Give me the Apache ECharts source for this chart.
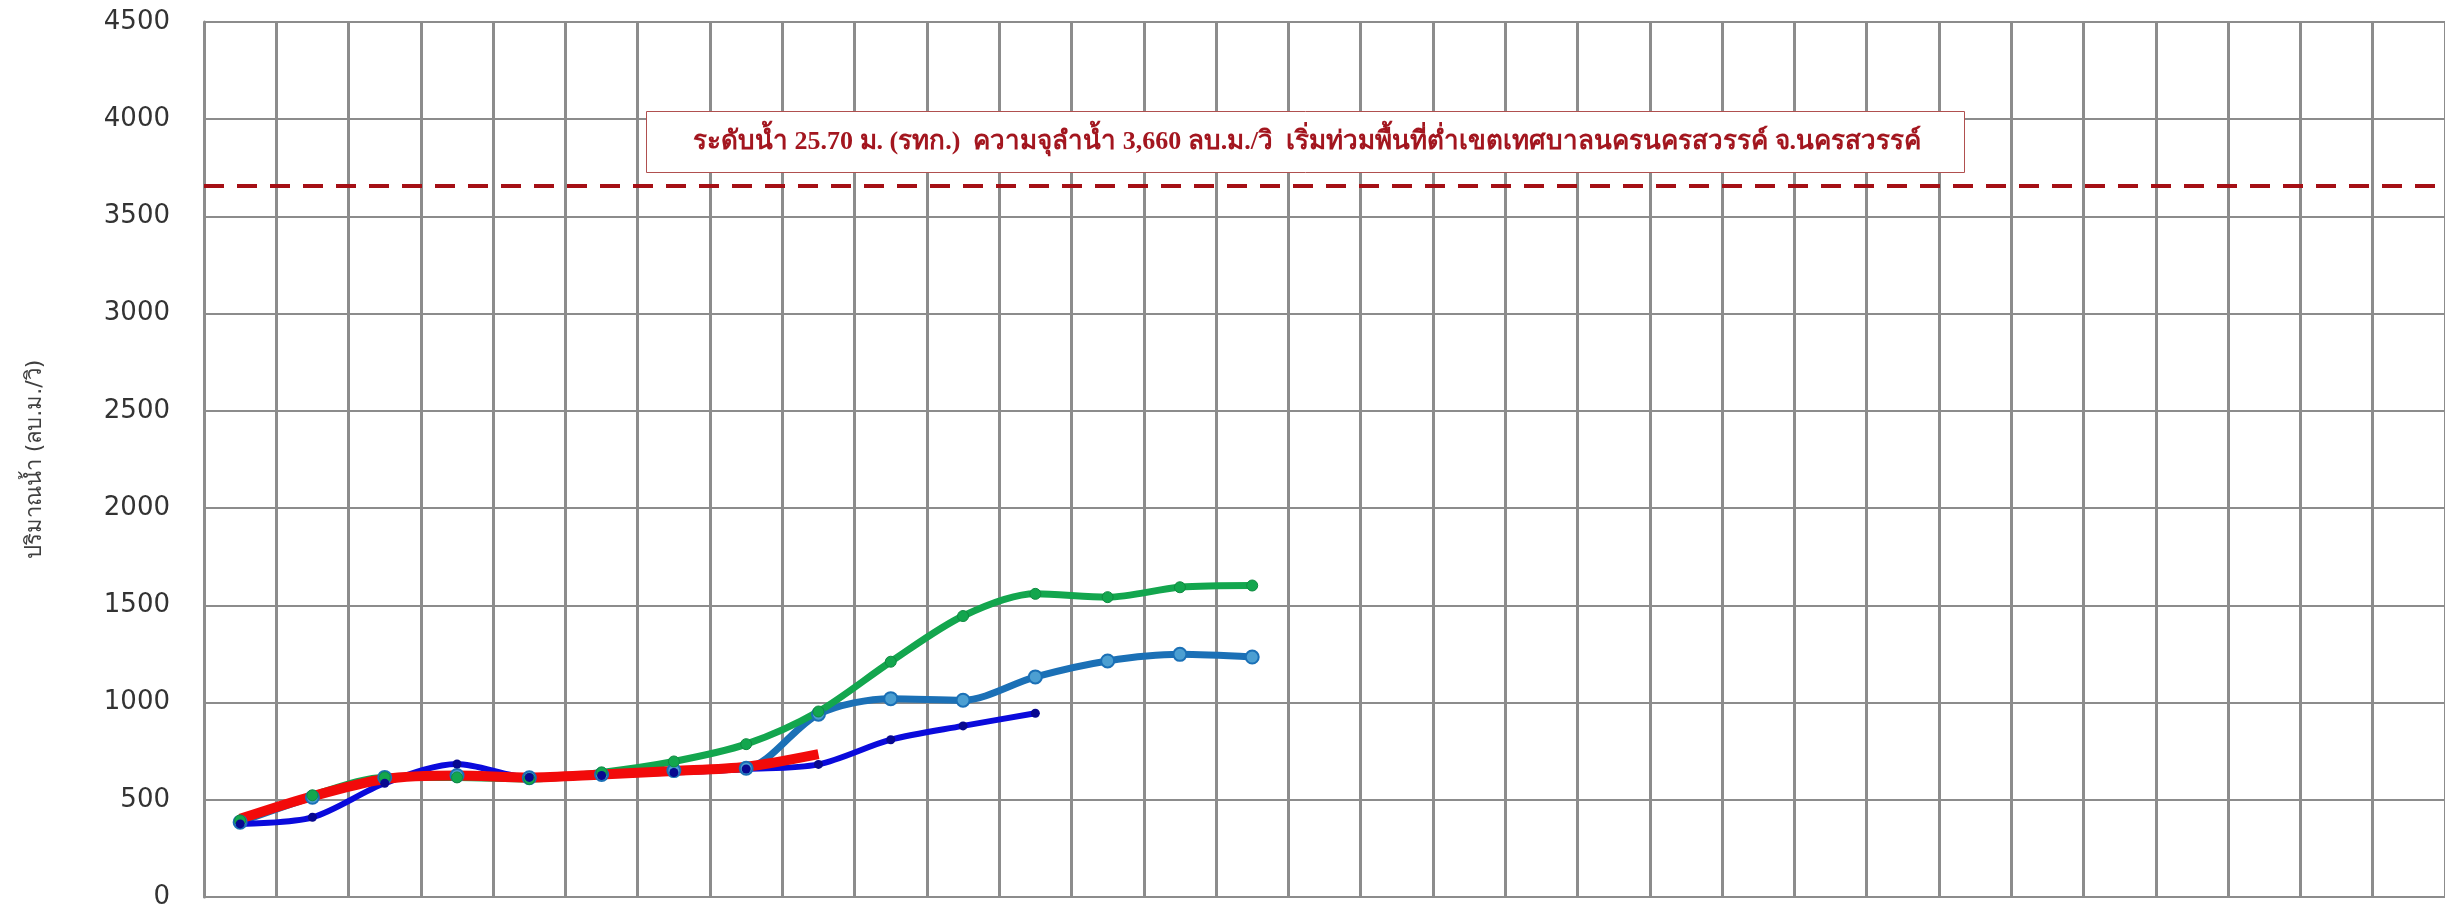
<!DOCTYPE html>
<html>
<head>
<meta charset="utf-8">
<title>ปริมาณน้ำ</title>
<script src="https://cdn.jsdelivr.net/npm/echarts@6/dist/echarts.min.js"></script>
<style>
  html, body { margin: 0; padding: 0; background: #fff; }
  #chart { width: 2445px; height: 910px; }
</style>
</head>
<body>
<div id="chart"></div>
<script>
// days of the month (x axis, labels fall below the picture)
var days = ['1', '2', '3', '4', '5', '6', '7', '8', '9', '10', '11', '12', '13', '14', '15', '16',
  '17', '18', '19', '20', '21', '22', '23', '24', '25', '26', '27', '28', '29', '30', '31']

// discharge, m3/s
var greenSeries = [394, 523, 615, 615, 607, 641, 697, 786, 954, 1210, 1445, 1559, 1542, 1593, 1602]
var steelSeries = [385, 513, 615, 625, 613, 630, 650, 662, 940, 1020, 1012, 1132, 1214, 1248, 1234]
var blueSeries = [376, 410, 585, 684, 615, 625, 640, 658, 682, 809, 880, 945]
var redSeries = [402, 518, 607, 625, 615, 630, 648, 670, 735]

var capacity = 3660
var noteText = 'ระดับน้ำ 25.70 ม. (รทก.)  ความจุลำน้ำ 3,660 ลบ.ม./วิ  เริ่มท่วมพื้นที่ต่ำเขตเทศบาลนครนครสวรรค์ จ.นครสวรรค์'
var yName = 'ปริมาณน้ำ (ลบ.ม./วิ)'

var chart = echarts.init(document.getElementById('chart'))

chart.setOption({
  animation: false,
  backgroundColor: '#fff',
  title: {
    text: noteText,
    left: 646,
    top: 111,
    padding: [18, 44, 18, 47],
    backgroundColor: '#fff',
    borderColor: '#b0504f',
    borderWidth: 1,
    textStyle: {
      fontFamily: "'Liberation Serif', serif",
      fontWeight: 'bold',
      fontSize: 26,
      color: '#a3161f'
    }
  },
  grid: {
    left: 204,
    right: -2,
    top: 22,
    bottom: 10
  },
  xAxis: {
    type: 'category',
    data: days,
    boundaryGap: true,
    axisLine: { show: true, lineStyle: { color: '#8c8c8c', width: 2 } },
    axisTick: { show: false },
    axisLabel: { show: false },
    splitLine: {
      show: true,
      interval: 0,
      lineStyle: { color: '#8c8c8c', width: 3, type: 'solid' }
    }
  },
  yAxis: {
    type: 'value',
    min: 0,
    max: 4500,
    interval: 500,
    name: yName,
    nameLocation: 'middle',
    nameGap: 158,
    nameRotate: 90,
    nameTextStyle: {
      fontFamily: "'DejaVu Sans', sans-serif",
      fontSize: 22,
      color: '#3f3f3f'
    },
    axisLine: { show: true, lineStyle: { color: '#8c8c8c', width: 3 } },
    axisTick: { show: false },
    axisLabel: {
      margin: 34,
      padding: [0, 0, 10, 0],
      formatter: function (v) { return String(v) },
      fontFamily: "'DejaVu Sans', sans-serif",
      fontSize: 26,
      color: '#333'
    },
    splitLine: {
      show: true,
      lineStyle: { color: '#8c8c8c', width: 2, type: 'solid' }
    }
  },
  series: [
    {
      name: 'ชุด 2',
      type: 'line',
      data: steelSeries,
      smooth: 0.3,
      symbol: 'circle',
      symbolSize: 13,
      lineStyle: { color: '#1b70b6', width: 7 },
      itemStyle: { color: '#4c9fd2', borderColor: '#1b70b6', borderWidth: 2 }
    },
    {
      name: 'ชุด 1',
      type: 'line',
      data: greenSeries,
      smooth: 0.3,
      symbol: 'circle',
      symbolSize: 11,
      lineStyle: { color: '#13a64e', width: 7 },
      itemStyle: { color: '#13a64e', borderColor: '#0f8a40', borderWidth: 1 }
    },
    {
      name: 'ชุด 3',
      type: 'line',
      data: blueSeries,
      smooth: 0.3,
      symbol: 'circle',
      symbolSize: 9,
      lineStyle: { color: '#0a0adc', width: 6 },
      itemStyle: { color: '#080890' }
    },
    {
      name: 'ชุด 4',
      type: 'line',
      data: redSeries,
      smooth: 0.3,
      symbol: 'none',
      lineStyle: { color: '#f20a0a', width: 10 },
      markLine: {
        silent: true,
        symbol: 'none',
        label: { show: false },
        lineStyle: { color: '#a50f15', width: 4, type: [20, 13] },
        data: [{ yAxis: capacity }]
      }
    }
  ]
})
</script>
</body>
</html>
